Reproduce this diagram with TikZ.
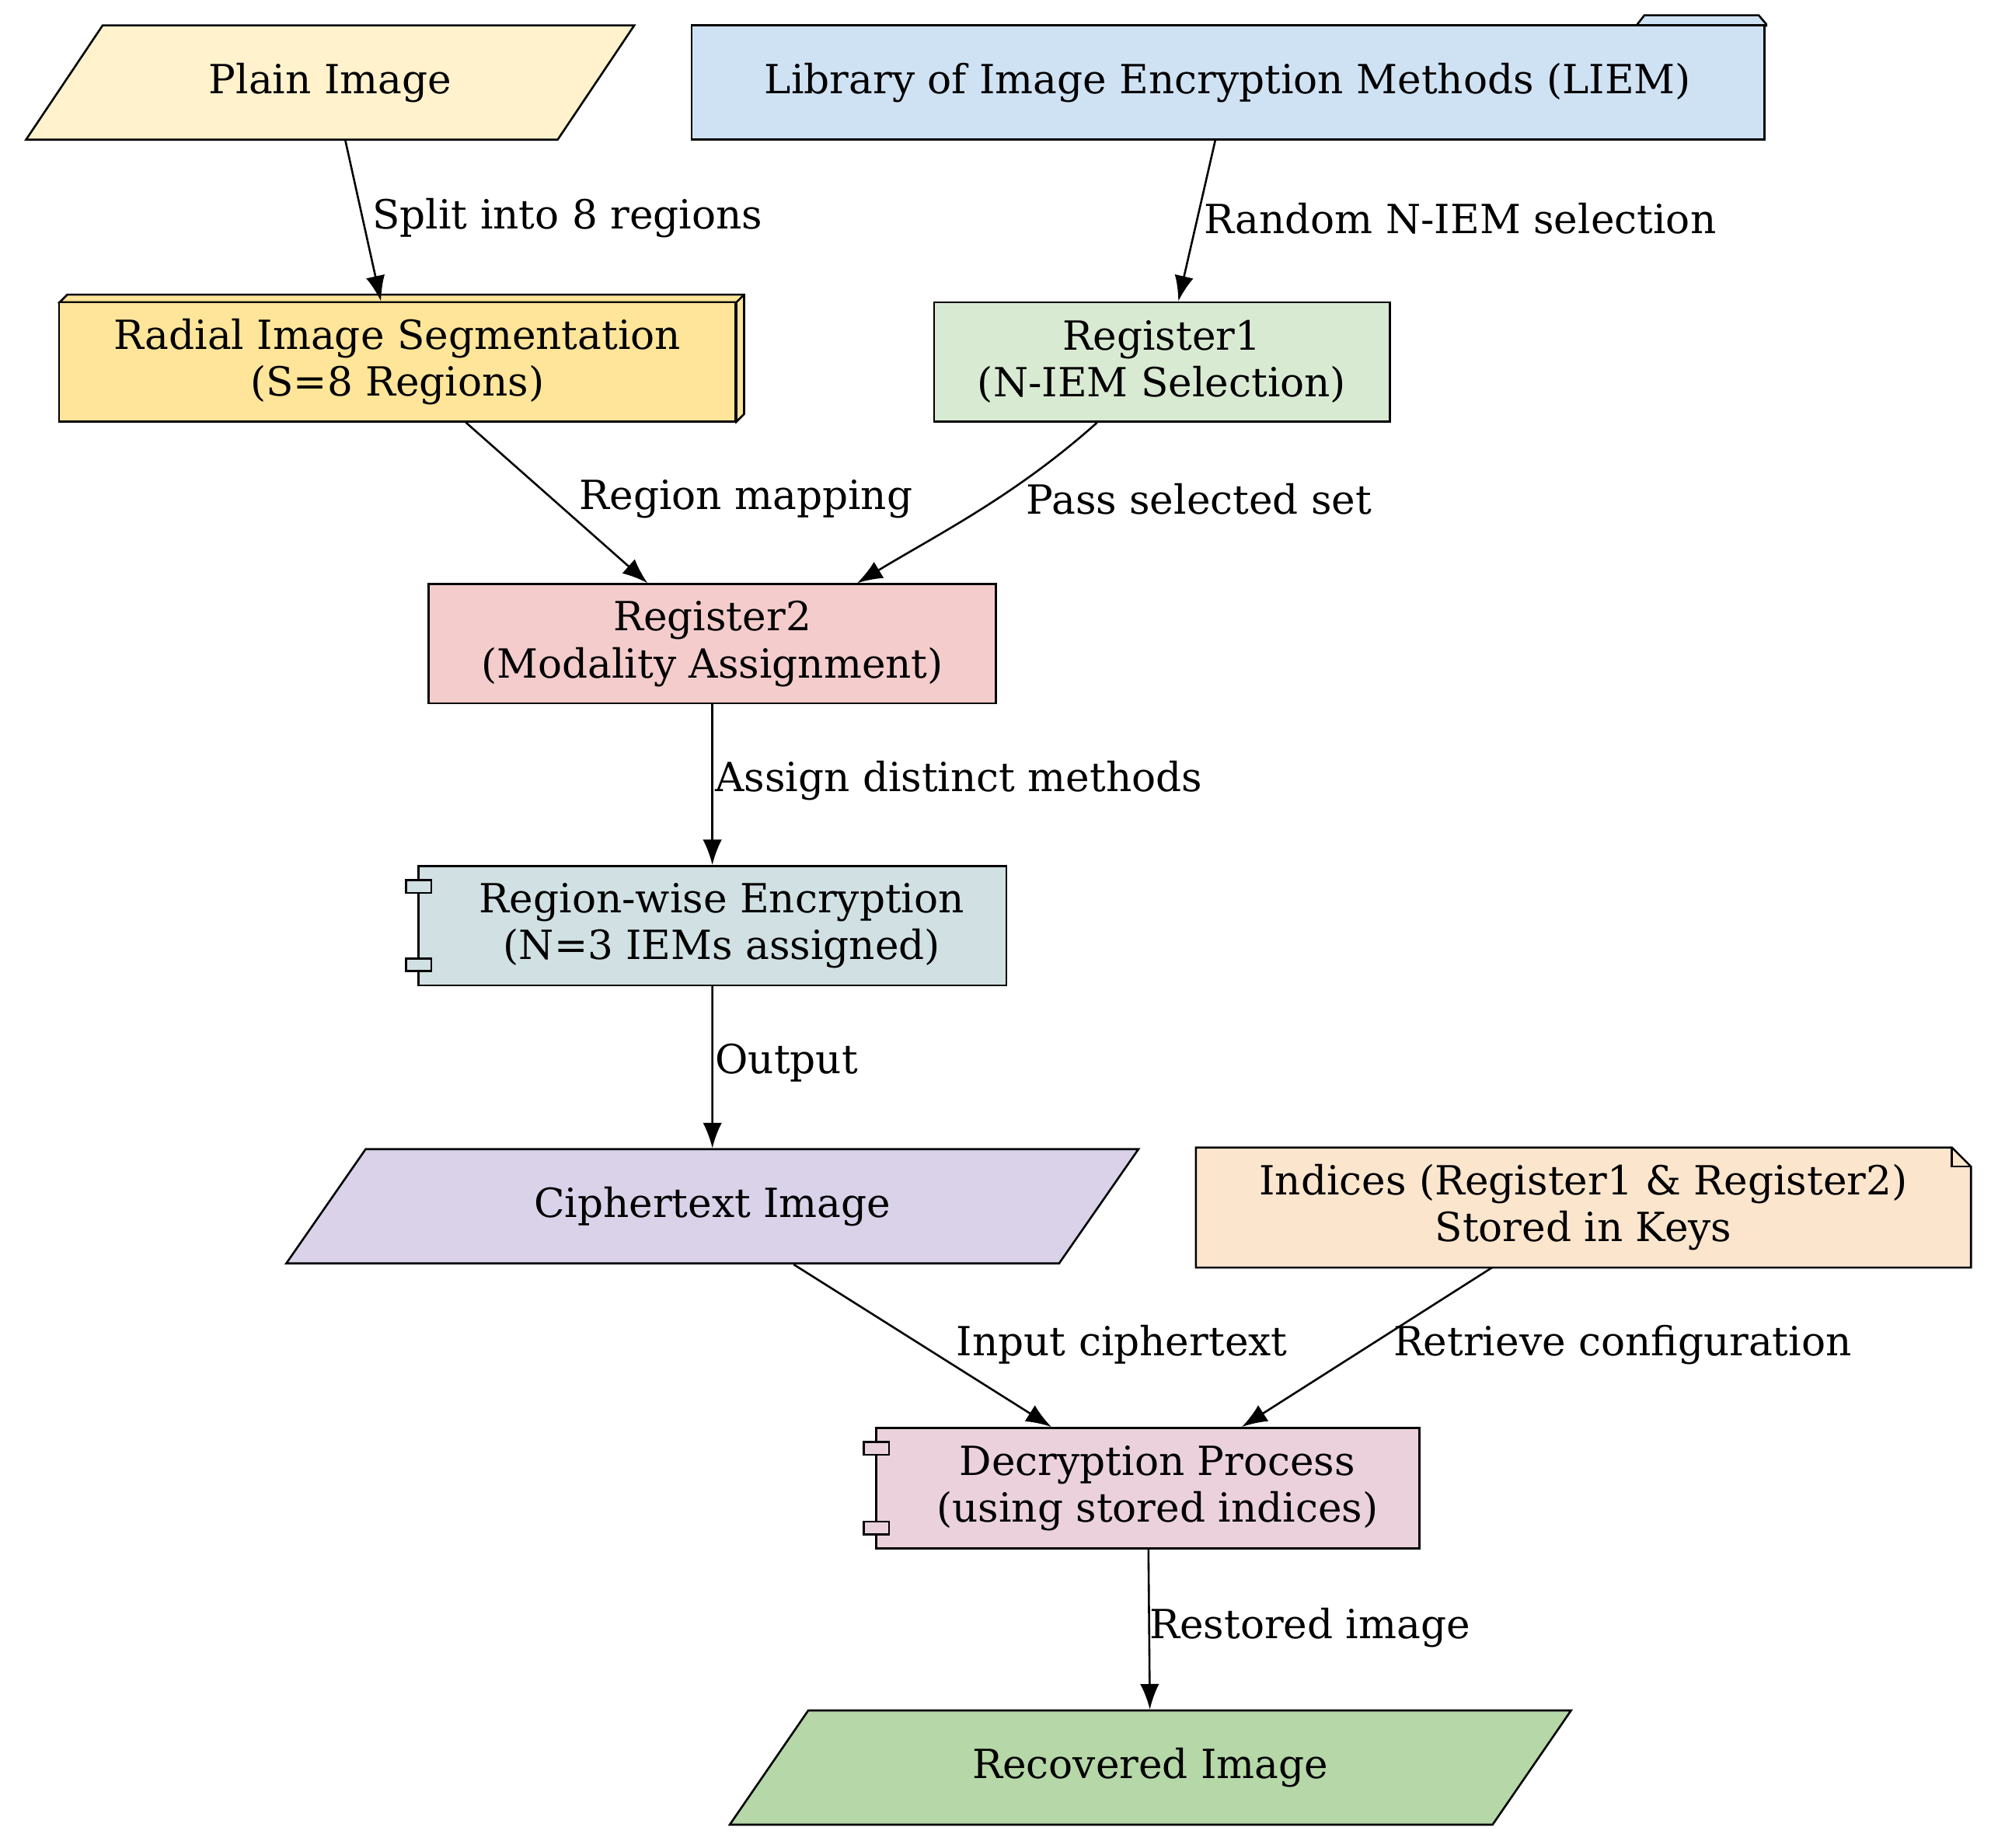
\documentclass[tikz,border=0pt]{standalone}
\usepackage{fontspec}
\setmainfont{DejaVu Serif}
\usetikzlibrary{arrows.meta,shapes.geometric,calc}

\definecolor{plainfill}{HTML}{FFF2CC}
\definecolor{liemfill}{HTML}{CFE2F3}
\definecolor{radfill}{HTML}{FFE599}
\definecolor{regafill}{HTML}{D9EAD3}
\definecolor{regbfill}{HTML}{F4CCCC}
\definecolor{encfill}{HTML}{D0E0E3}
\definecolor{ciphfill}{HTML}{D9D2E9}
\definecolor{keyfill}{HTML}{FCE5CD}
\definecolor{decfill}{HTML}{EAD1DC}
\definecolor{recfill}{HTML}{B6D7A8}

\begin{document}
\begin{tikzpicture}[
	x=0.02cm, y=-0.02cm,
	font=\fontsize{18}{21}\selectfont,
	basic/.style = {draw, line width=0.9pt, align=center, inner sep=0pt},
	box/.style   = {basic, rectangle, minimum height=1.88cm},
	para/.style  = {basic, trapezium, trapezium left angle=44, trapezium right angle=136,
	                trapezium stretches=true, minimum height=1.8cm},
	lab/.style   = {anchor=west, inner sep=0pt},
	arr/.style   = {-{Latex[length=4mm,width=3mm]}, line width=0.9pt},
	]
	\useasboundingbox (0,0) rectangle (1568,1455);

	% folder tab and box3d shading drawn first
	\filldraw[fill=liemfill, line width=0.9pt] (1288,21) -- (1295,12) -- (1385,12) -- (1391,19) -- (1391,21);
	\filldraw[fill=radfill, line width=0.9pt] (47,238) -- (53,232) -- (586,232) -- (586,326) -- (580,332) -- (580,238) -- cycle;
	\draw[line width=0.9pt] (580,238) -- (586,232);

	% nodes
	\node[para, fill=plainfill, minimum width=9.6cm] (plain) at (260,65) {Plain Image};
	\node[box, fill=liemfill, minimum width=16.9cm, minimum height=1.8cm] (liem) at (967,65) {Library of Image Encryption Methods (LIEM)};
	\node[box, fill=radfill, minimum width=10.66cm] (radial) at (313,285) {Radial Image Segmentation\\(S=8 Regions)};
	\node[box, fill=regafill, minimum width=7.18cm] (reg1) at (915,285) {Register1\\(N-IEM Selection)};
	\node[box, fill=regbfill, minimum width=8.94cm] (reg2) at (561,507) {Register2\\(Modality Assignment)};
	\node[box, fill=encfill, minimum width=9.26cm] (enc) at (561,729) {\hspace{0.3cm}Region-wise Encryption\\\hspace{0.3cm}(N=3 IEMs assigned)};
	\node[para, fill=ciphfill, minimum width=13.44cm] (ciph) at (561,950) {Ciphertext Image};
	\node[box, draw=none, minimum width=12.18cm, minimum height=1.86cm] (keys) at (1247,951) {Indices (Register1 \& Register2)\\Stored in Keys};
	\node[box, fill=decfill, minimum width=8.56cm, minimum height=1.9cm] (dec) at (904,1172) {\hspace{0.3cm}Decryption Process\\\hspace{0.3cm}(using stored indices)};
	\node[para, fill=recfill, minimum width=13.26cm] (rec) at (906,1392) {Recovered Image};

	% note shape behind the keys text
	\begin{scope}[on background layer/.try]
	\end{scope}
	\filldraw[fill=keyfill, line width=0.9pt] (keys.south west) -- (keys.north west) -- ($(keys.north east)+(-15,0)$)
		-- ($(keys.north east)+(0,15)$) -- (keys.south east) -- cycle;
	\draw[line width=0.9pt] ($(keys.north east)+(-15,0)$) |- ($(keys.north east)+(0,15)$);
	\node[align=center, inner sep=0pt] at (keys) {Indices (Register1 \& Register2)\\Stored in Keys};

	% component tabs
	\foreach \n in {enc,dec}{
		\filldraw[fill=\n fill, line width=0.9pt] ($(\n.north west)+(-9,12)$) rectangle ++(20,10);
		\filldraw[fill=\n fill, line width=0.9pt] ($(\n.south west)+(-9,-22)$) rectangle ++(20,10);
	}

	% connectors
	\draw[arr] ($(plain.south)+(12,0)$) -- ($(radial.north)+(-13,0)$);
	\draw[arr] ($(liem.south)+(-10,0)$) -- ($(reg1.north)+(13,0)$);
	\draw[arr] ($(radial.south)+(54,0)$) -- ($(reg2.north)+(-51,0)$);
	\draw[arr] ($(reg1.south)+(-51,0)$) .. controls (800,390) and (740,420) .. ($(reg2.north)+(114,0)$);
	\draw[arr] (reg2) -- (enc);
	\draw[arr] (enc) -- (ciph);
	\draw[arr] ($(ciph.south)+(64,0)$) -- ($(dec.north)+(-76,0)$);
	\draw[arr] ($(keys.south)+(-72,0)$) -- ($(dec.north)+(74,0)$);
	\draw[arr] (dec) -- (rec);

	% labels
	\node[lab] (l1) at (293,172) {Split into 8 regions};
	\node[lab] (l2) at (948,172) {Random N-IEM selection};
	\node[lab] (l3) at (456,393) {Region mapping};
	\node[lab] (l4) at (808,393) {Pass selected set};
	\node[lab] (l5) at (563,615) {Assign distinct methods};
	\node[lab] (l6) at (563,837) {Output};
	\node[lab] (l7) at (753,1059) {Input ciphertext};
	\node[lab] (l8) at (1097,1059) {Retrieve configuration};
	\node[lab] (l9) at (905,1282) {Restored image};
\end{tikzpicture}
\end{document}
